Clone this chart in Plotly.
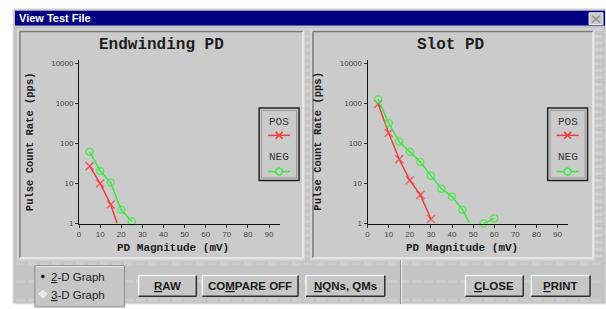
import plotly.graph_objects as go

W, H = 606, 309

# ---------------- data ----------------
pd_mv_ticks = [0, 10, 20, 30, 40, 50, 60, 70, 80, 90]
rate_ticks = [1, 10, 100, 1000, 10000]
rate_tick_labels = ["1", "10", "100", "1000", "10000"]

end_pos_x = [5, 10, 15, 20]
end_pos_y = [27, 10, 3.0, 0.5]
end_neg_x = [5, 10, 15, 20, 25]
end_neg_y = [62, 20.5, 10.5, 2.2, 1.12]

slot_pos_x = [5, 10, 15, 20, 25, 30]
slot_pos_y = [950, 180, 40, 12, 5.2, 1.3]
slot_neg_x = [5, 10, 15, 20, 25, 30, 35, 40, 45, 50, 55, 60]
slot_neg_y = [1250, 320, 110, 62, 34, 15.5, 7.4, 4.7, 2.2, 0.7, 1.0, 1.35]

panel_titles = ["Endwinding PD", "Slot PD"]
x_title = "PD Magnitude (mV)"
y_title = "Pulse Count Rate (pps)"
series_names = ["POS", "NEG"]
buttons = ["<u>R</u>AW", "CO<u>M</u>PARE OFF", "<u>N</u>QNs, QMs", "<u>C</u>LOSE", "<u>P</u>RINT"]

RED = "#f23c3c"
GREEN = "#3de83d"


def X(px):
    return px / W


def Y(py):
    return 1 - py / H


shapes = []
annotations = []


def rect(x0, y0, x1, y1, fill=None, line=None, lw=1, layer="below"):
    shapes.append(dict(type="rect", xref="paper", yref="paper",
                       x0=X(x0), x1=X(x1), y0=Y(y0), y1=Y(y1),
                       fillcolor=fill if fill else "rgba(0,0,0,0)",
                       line=dict(color=line if line else "rgba(0,0,0,0)", width=lw if line else 0),
                       layer=layer))


def seg(x0, y0, x1, y1, color, lw=1, layer="below", dash=None):
    d = dict(color=color, width=lw)
    if dash:
        d["dash"] = dash
    shapes.append(dict(type="line", xref="paper", yref="paper",
                       x0=X(x0), x1=X(x1), y0=Y(y0), y1=Y(y1), line=d, layer=layer))


def text(x, y, s, size=10, color="#222", family="Liberation Sans", xanchor="center",
         yanchor="middle", angle=0, bold=False):
    annotations.append(dict(xref="paper", yref="paper", x=X(x), y=Y(y), text=("<b>%s</b>" % s) if bold else s,
                            showarrow=False, xanchor=xanchor, yanchor=yanchor, textangle=angle,
                            font=dict(size=size, color=color, family=family)))


# window body
rect(11, 8, 606, 309, fill="#c4c4c4", line="#e4e4e4", lw=1)
# title bar
rect(13, 10, 605, 25, fill="#000080")
text(15, 17.5, "View Test File", size=11, color="white", xanchor="left", bold=True)
# close button
rect(589, 12, 603, 24, fill="#c8c8c8", line="#eeeeee", lw=1, layer="above")
seg(592, 15, 600, 22, "#8a8a8a", 1.2, layer="above")
seg(592, 22, 600, 15, "#8a8a8a", 1.2, layer="above")

# textures
for yy in range(29, 262, 7):
    seg(595, yy, 603, yy, "#d2d2d2", 3)
    seg(304, yy, 310, yy, "#cecece", 3)
for yy in [268, 286, 305]:
    seg(14, yy, 604, yy, "#cdcdcd", 3, dash="9px,3px")

# panels
for (px0, px1) in [(18, 302), (312, 593)]:
    rect(px0 - 3, 28, px1 + 2, 265, fill="#d4d4d4")
    rect(px0, 31, px1, 262, fill="#cbcbcb")
    seg(px0, 31, px1, 31, "#7c7c7c", 1.5)
    seg(px0, 31, px0, 262, "#7c7c7c", 1.5)
    seg(px0, 262, px1, 262, "#eeeeee", 1.5)
    seg(px1, 31, px1, 262, "#eeeeee", 1.5)

# radio group box
rect(33, 270, 123, 312, fill="#c6c6c6", line="#8c8c8c", lw=1)
seg(34, 271, 122, 271, "#eeeeee", 1)
shapes.append(dict(type="circle", xref="paper", yref="paper", x0=X(39.5), x1=X(42.5), y0=Y(279.5), y1=Y(282.5),
                   fillcolor="#111", line=dict(color="#111", width=0.5), layer="above"))
shapes.append(dict(type="path", xref="paper", yref="paper",
                   path="M %f %f L %f %f L %f %f L %f %f Z" % (X(41), Y(295), X(45), Y(299), X(41), Y(303), X(37), Y(299)),
                   fillcolor="#e8e8e8", line=dict(color="#f4f4f4", width=1), layer="above"))
text(47, 281, "<u>2</u>-D Graph", size=11.5, color="#222", xanchor="left")
text(47, 299.5, "<u>3</u>-D Graph", size=11.5, color="#222", xanchor="left")

# separator
seg(400, 264, 400, 309, "#8c8c8c", 1)
seg(401, 264, 401, 309, "#eeeeee", 1)

# buttons
btn_boxes = [(137, 195), (201, 297), (305, 384), (465, 523), (531, 590)]
for (bx0, bx1), lab in zip(btn_boxes, buttons):
    rect(bx0, 280, bx1, 301, fill="#c6c6c6", layer="above")
    seg(bx0, 280, bx1, 280, "#f4f4f4", 1.5, layer="above")
    seg(bx0, 280, bx0, 301, "#f4f4f4", 1.5, layer="above")
    seg(bx0, 301, bx1, 301, "#303030", 1.5, layer="above")
    seg(bx1, 280, bx1, 301, "#303030", 1.5, layer="above")
    text((bx0 + bx1) / 2, 291, lab, size=11.5, color="#1a1a1a",
         family="Liberation Sans Narrow, Liberation Sans", bold=True)

# ---------------- plots ----------------
ax_left = [(77.3, 278.5), (366.8, 568.0)]
y_top, y_bot = 60, 227

fig = go.Figure()

datasets = [((end_pos_x, end_pos_y), (end_neg_x, end_neg_y)),
            ((slot_pos_x, slot_pos_y), (slot_neg_x, slot_neg_y))]

for i, ((px_, py_), (nx_, ny_)) in enumerate(datasets):
    xa = "x" if i == 0 else "x2"
    ya = "y" if i == 0 else "y2"
    fig.add_trace(go.Scatter(x=px_, y=py_, xaxis=xa, yaxis=ya, mode="lines+markers", cliponaxis=False,
                             line=dict(color=RED, width=1.5),
                             marker=dict(symbol="x-thin-open", size=[8 if v >= 1 else 0 for v in py_],
                                         line=dict(color=RED, width=1.5), color=RED),
                             showlegend=False, name=series_names[0]))
    fig.add_trace(go.Scatter(x=nx_, y=ny_, xaxis=xa, yaxis=ya, mode="lines+markers", cliponaxis=False,
                             line=dict(color=GREEN, width=1.5),
                             marker=dict(symbol="circle-open", size=[7 if v >= 1 else 0 for v in ny_],
                                         line=dict(color=GREEN, width=1.5), color=GREEN),
                             showlegend=False, name=series_names[1]))

    off = 0 if i == 0 else 289.5
    # titles
    text(160 + off, 45, panel_titles[i], size=16, color="#1e1e1e",
         family="Liberation Mono", bold=True)
    text(172 + off, 252, x_title, size=11, color="#1e1e1e", family="Liberation Mono", bold=True)
    text(28 + off, 143, y_title, size=10.5, color="#1e1e1e", family="Liberation Mono", bold=True, angle=-90)
    # legend box
    lx0, lx1 = 258 + off, 298 + off
    rect(lx0, 109, lx1, 183, fill="#cbcbcb", line="#222", lw=1.5, layer="above")
    rect(lx0 + 2.5, 111.5, lx1 - 2.5, 180.5, line="#9a9a9a", lw=1, layer="above")
    cx = (lx0 + lx1) / 2
    text(cx, 123, series_names[0], size=11, color="#333", family="Liberation Mono")
    text(cx, 159, series_names[1], size=11, color="#333", family="Liberation Mono")
    seg(cx - 11, 137, cx + 11, 137, RED, 1.5, layer="above")
    seg(cx - 3.5, 133.5, cx + 3.5, 140.5, RED, 1.5, layer="above")
    seg(cx - 3.5, 140.5, cx + 3.5, 133.5, RED, 1.5, layer="above")
    seg(cx - 11, 174, cx + 11, 174, GREEN, 1.5, layer="above")
    shapes.append(dict(type="circle", xref="paper", yref="paper", x0=X(cx - 3.5), x1=X(cx + 3.5),
                       y0=Y(170.5), y1=Y(177.5), fillcolor="#cbcbcb", line=dict(color=GREEN, width=1.5),
                       layer="above"))

common_x = dict(range=[0, 95], tickvals=pd_mv_ticks, ticks="outside", ticklen=3, tickcolor="#333",
                showline=True, linecolor="#111", linewidth=1, showgrid=False, zeroline=False,
                tickfont=dict(size=8, color="#444", family="Liberation Sans"), fixedrange=True)
common_y = dict(type="log", range=[0, 4.08], tickvals=rate_ticks, ticktext=rate_tick_labels,
                ticks="outside", ticklen=3, tickcolor="#333", showline=True, linecolor="#111",
                linewidth=1, showgrid=False, zeroline=False,
                tickfont=dict(size=8, color="#444", family="Liberation Sans"), fixedrange=True)

fig.update_layout(
    width=W, height=H, margin=dict(l=0, r=0, t=0, b=0),
    paper_bgcolor="white", plot_bgcolor="rgba(0,0,0,0)",
    xaxis=dict(domain=[X(ax_left[0][0]), X(ax_left[0][1])], anchor="y", **common_x),
    yaxis=dict(domain=[Y(y_bot), Y(y_top)], anchor="x", **common_y),
    xaxis2=dict(domain=[X(ax_left[1][0]), X(ax_left[1][1])], anchor="y2", **common_x),
    yaxis2=dict(domain=[Y(y_bot), Y(y_top)], anchor="x2", **common_y),
    shapes=shapes, annotations=annotations, showlegend=False,
)

fig.write_html("out.html", config={"displayModeBar": False},
               post_script="document.body.style.margin='0px';document.body.style.overflow='hidden';")
